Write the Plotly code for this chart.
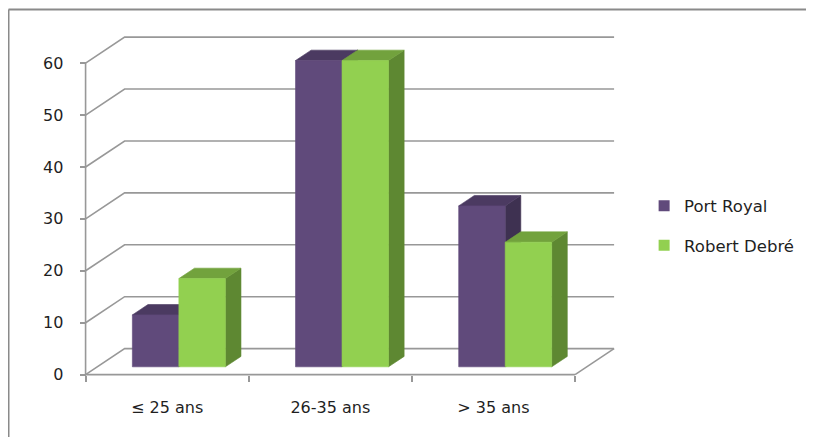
import plotly.graph_objects as go

# ---------------- data ----------------
categories = ["≤ 25 ans", "26-35 ans", "> 35 ans"]
series_names = ["Port Royal", "Robert Debré"]
port_royal = [10, 59, 31]
robert_debre = [17, 59, 24]
y_ticks = [0, 10, 20, 30, 40, 50, 60]

# ---------------- styles ----------------
front_colors = ["#604A7B", "#92D050"]
top_colors = ["#4B3A61", "#72A23D"]
side_colors = ["#3E3151", "#5E8832"]
grid_color = "#989898"
text_color = "#1f1f1f"
FONT = "DejaVu Sans"
FS = 16

W, H = 814, 437
OFF = 8.0  # page body margin offset
# pixel calibration of the oblique projection (page pixels minus body offset)
X0PX, CATPX = 86.0 - OFF, 163.0      # pixel of x=-0.5, pixels per category
Y0PX, UNITPX = 375.0 - OFF, 5.19     # pixel of value 0, pixels per unit
xr = [-0.62, 2.8]
yr = [-2.0, 66.0]
l = X0PX + (xr[0] + 0.5) * CATPX
pw = (xr[1] - xr[0]) * CATPX
r = W - l - pw
t = Y0PX - yr[1] * UNITPX
ph = (yr[1] - yr[0]) * UNITPX
b = H - t - ph

DX = 39.0 / CATPX   # depth offset in category units
DY = 26.0 / UNITPX  # depth offset in value units
F0, F1 = 0.3, 0.7   # bar depth fractions
BW = 0.285          # bar width (category units)
n = len(categories)
x_lo, x_hi = -0.5, n - 0.5
ymax = max(y_ticks)


def px2paper_x(px):
    return (px - OFF - l) / pw


def px2paper_y(py):
    return (t + ph - (py - OFF)) / ph


fig = go.Figure()

# ---------------- walls, floor, gridlines ----------------
gx, gy = [], []
for v in y_ticks:
    gx += [x_lo, x_lo + DX, x_hi + DX, None]
    gy += [v, v + DY, v + DY, None]
gx += [x_hi, x_hi + DX, None, x_lo, x_hi, None, x_lo, x_lo, None]
gy += [0, DY, None, 0, 0, None, 0, ymax, None]
fig.add_trace(go.Scatter(x=gx, y=gy, mode="lines",
                         line=dict(color=grid_color, width=1.6),
                         hoverinfo="skip", showlegend=False, cliponaxis=False))

# ---------------- 3D bars ----------------
values = [port_royal, robert_debre]
ox0, oy0 = F0 * DX, F0 * DY
ox1, oy1 = F1 * DX, F1 * DY


def poly(xs, ys, color):
    fig.add_trace(go.Scatter(x=xs + [xs[0]], y=ys + [ys[0]], mode="lines",
                             fill="toself", fillcolor=color,
                             line=dict(color=color, width=0.6),
                             hoverinfo="skip", showlegend=False))


for i in range(n):
    for s in range(len(values)):
        v = values[s][i]
        xl = i - BW + s * BW
        xrt = xl + BW
        poly([xrt + ox0, xrt + ox1, xrt + ox1, xrt + ox0],
             [oy0, oy1, v + oy1, v + oy0], side_colors[s])
        poly([xl + ox0, xrt + ox0, xrt + ox1, xl + ox1],
             [v + oy0, v + oy0, v + oy1, v + oy1], top_colors[s])
        poly([xl + ox0, xrt + ox0, xrt + ox0, xl + ox0],
             [oy0, oy0, v + oy0, v + oy0], front_colors[s])

# ---------------- legend entries ----------------
for s, name in enumerate(series_names):
    fig.add_trace(go.Scatter(x=[None], y=[None], mode="markers", name=name,
                             legendgroup=name,
                             marker=dict(symbol="square", size=11,
                                         color=front_colors[s])))

# ---------------- frame ----------------
fx0, fy0 = px2paper_x(9), px2paper_y(10)
fig.add_shape(type="line", xref="paper", yref="paper", x0=fx0, y0=fy0,
              x1=px2paper_x(830), y1=fy0, line=dict(color="#8a8a8a", width=2))
fig.add_shape(type="line", xref="paper", yref="paper", x0=fx0, y0=fy0,
              x1=fx0, y1=px2paper_y(450), line=dict(color="#8a8a8a", width=2))

fig.update_layout(
    width=W, height=H, autosize=False,
    margin=dict(l=l, r=r, t=t, b=b, pad=0),
    paper_bgcolor="white", plot_bgcolor="white",
    font=dict(family=FONT, size=FS, color=text_color),
    xaxis=dict(range=xr, anchor="free", position=px2paper_y(375),
               showgrid=False, zeroline=False, showline=False,
               tickvals=list(range(n)), ticktext=categories, ticks="",
               ticklabelstandoff=21, tickfont=dict(size=FS, color=text_color),
               minor=dict(tickvals=[k - 0.5 for k in range(n + 1)],
                          ticks="outside", ticklen=6, tickwidth=1.6,
                          tickcolor=grid_color, showgrid=False)),
    yaxis=dict(range=yr, anchor="free", position=px2paper_x(86),
               showgrid=False, zeroline=False, showline=False,
               tickvals=y_ticks, ticks="outside", ticklen=6, tickwidth=1.6,
               tickcolor=grid_color, ticklabelstandoff=13,
               tickfont=dict(size=FS, color=text_color)),
    legend=dict(x=px2paper_x(644), y=px2paper_y(226), xanchor="left",
                yanchor="middle", traceorder="grouped", tracegroupgap=15,
                font=dict(size=16.5, color=text_color), bgcolor="rgba(0,0,0,0)"),
    showlegend=True,
)

fig.write_html("out.html")
